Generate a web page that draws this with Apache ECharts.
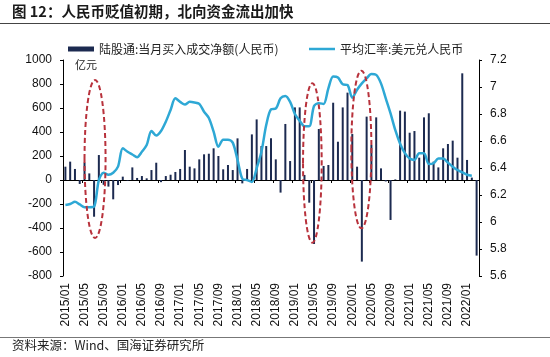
<!DOCTYPE html>
<html><head><meta charset="utf-8">
<script src="https://cdn.jsdelivr.net/npm/echarts@6/dist/echarts.min.js"></script>
<style>html,body{margin:0;padding:0;background:#fff}#c{width:550px;height:357px}</style>
</head><body><div id="c"></div>
<script>
// ---- data ----
const titleText = '图 12：人民币贬值初期，北向资金流出加快';
const sourceText = '资料来源：Wind、国海证券研究所';
const unitText = '亿元';
const barName = '陆股通:当月买入成交净额(人民币)';
const lineName = '平均汇率:美元兑人民币';

const categories = [];
for (let y = 2015; y <= 2022; y++) {
  for (let m = 1; m <= 12; m++) {
    if (y === 2022 && m > 3) break;
    categories.push(y + '/' + (m < 10 ? '0' + m : m));
  }
}

const netBuy = [111,153,92,-33,145,55,-306,208,-40,-55,-161,-42,28,-5,105,17,33,14,83,144,
  -18,33,44,67,92,250,111,97,172,214,219,264,200,89,125,83,347,-28,92,380,
  505,283,283,347,172,-105,467,158,605,605,42,-189,-533,425,117,125,644,319,605,728,
  383,111,-680,528,292,522,97,-12,-333,5,578,570,394,408,186,522,556,153,105,264,
  300,328,186,889,167,20,-630];

const fxRate = [6.126,6.133,6.15,6.13,6.11,6.11,6.115,6.31,6.365,6.35,6.365,6.41,6.546,6.52,6.50,6.48,
  6.52,6.57,6.674,6.64,6.674,6.743,6.83,6.916,6.89,6.87,6.89,6.885,6.875,6.817,6.77,6.67,
  6.558,6.61,6.61,6.588,6.46,6.32,6.31,6.297,6.398,6.52,6.718,6.835,6.84,6.916,6.933,6.89,
  6.80,6.75,6.71,6.71,6.86,6.88,6.875,6.99,7.077,7.07,7.02,7.015,6.92,6.98,7.027,7.064,
  7.096,7.09,7.027,6.916,6.805,6.68,6.58,6.51,6.47,6.46,6.51,6.51,6.43,6.435,6.47,6.47,
  6.44,6.41,6.385,6.368,6.35,6.343,null];

// annotation ovals: category-index span and left-axis value span
const ovals = [
  {i0: 4.0, i1: 8.4, v0: -483, v1: 833},
  {i0: 49.7, i1: 53.6, v0: -522, v1: 806},
  {i0: 59.8, i1: 64.0, v0: -403, v1: 911}
];

const leftMin = -800, leftMax = 1000, leftStep = 200;
const rightMin = 5.6, rightMax = 7.2, rightStep = 0.2;

const barColor = '#1c2a50';
const lineColor = '#2ea8d5';

// ---- chart ----
const chart = echarts.init(document.getElementById('c'));
const axisFont = {fontFamily: 'Liberation Sans, Arial, sans-serif', fontSize: 12, color: '#111'};
const legendText = {fontFamily: 'Noto Sans CJK SC', fontSize: 12, color: '#222'};

const staticGraphics = [
  {id: 'title', type: 'text', left: 12, top: 4, style: {text: titleText, font: 'bold 14.5px "Noto Sans CJK SC"', fill: '#1a1a1a'}},
  {id: 'tline', type: 'line', shape: {x1: 0, y1: 23.5, x2: 550, y2: 23.5}, style: {stroke: '#444', lineWidth: 1.2}},
  {id: 'unit', type: 'text', left: 75, top: 59, style: {text: unitText, font: '11px "Noto Sans CJK SC"', fill: '#222'}},
  {id: 'fline', type: 'line', shape: {x1: 0, y1: 337.5, x2: 550, y2: 337.5}, style: {stroke: '#777', lineWidth: 1}},
  {id: 'src', type: 'text', left: 12, top: 339, style: {text: sourceText, font: '12.5px "Noto Sans CJK SC"', fill: '#222'}}
];

chart.setOption({
  animation: false,
  backgroundColor: '#fff',
  grid: {left: 63, right: 71, top: 60, bottom: 81, containLabel: false},
  legend: [
    {
      left: 63, top: 38, itemWidth: 26, itemHeight: 5, textStyle: legendText,
      data: [{name: barName, icon: 'rect'}]
    },
    {
      left: 304, top: 38, itemWidth: 26, itemHeight: 2.5, textStyle: legendText,
      data: [{name: lineName, icon: 'rect', itemStyle: {color: lineColor}}]
    }
  ],
  xAxis: [
    {
      type: 'category', data: categories, boundaryGap: true,
      axisLine: {onZero: true, onZeroAxisIndex: 0, lineStyle: {color: '#000', width: 1}},
      axisTick: {show: true, interval: 3, length: 3, lineStyle: {color: '#000'}},
      axisLabel: {show: false}
    },
    {
      type: 'category', data: categories, boundaryGap: true, position: 'bottom',
      axisLine: {show: false, onZero: false},
      axisTick: {show: false},
      axisLabel: Object.assign({interval: 3, rotate: 90, margin: 7}, axisFont)
    }
  ],
  yAxis: [
    {
      type: 'value', min: leftMin, max: leftMax, interval: leftStep,
      splitLine: {show: false},
      axisLine: {show: true, lineStyle: {color: '#000'}},
      axisTick: {show: true, length: 3, lineStyle: {color: '#000'}},
      axisLabel: Object.assign({margin: 11, formatter: v => String(Math.round(v))}, axisFont)
    },
    {
      type: 'value', min: rightMin, max: rightMax, interval: rightStep, position: 'right',
      splitLine: {show: false},
      axisLine: {show: true, lineStyle: {color: '#000'}},
      axisTick: {show: true, length: 3, lineStyle: {color: '#000'}},
      axisLabel: Object.assign({margin: 11, formatter: v => String(parseFloat(v.toFixed(1)))}, axisFont)
    }
  ],
  series: [
    {
      name: barName, type: 'bar', data: netBuy, barWidth: 2,
      xAxisIndex: 0, yAxisIndex: 0,
      itemStyle: {color: barColor}
    },
    {
      name: lineName, type: 'line', data: fxRate, xAxisIndex: 0, yAxisIndex: 1,
      symbol: 'none', smooth: 0.3, connectNulls: false,
      lineStyle: {color: lineColor, width: 2.5},
      itemStyle: {color: lineColor}
    }
  ],
  graphic: staticGraphics
});

// dashed ovals placed through the chart's own coordinate system
const p0 = chart.convertToPixel({xAxisIndex: 0, yAxisIndex: 0}, [0, 0]);
const p1 = chart.convertToPixel({xAxisIndex: 0, yAxisIndex: 0}, [1, 0]);
const step = p1[0] - p0[0];
const ovalGraphics = ovals.map((o, k) => {
  const xa = p0[0] + o.i0 * step, xb = p0[0] + o.i1 * step;
  const ya = chart.convertToPixel({yAxisIndex: 0}, o.v0);
  const yb = chart.convertToPixel({yAxisIndex: 0}, o.v1);
  return {
    id: 'oval' + k, type: 'ellipse', z: 100,
    shape: {cx: (xa + xb) / 2, cy: (ya + yb) / 2, rx: Math.abs(xb - xa) / 2, ry: Math.abs(ya - yb) / 2},
    style: {fill: 'none', stroke: '#b8323c', lineWidth: 2, lineDash: [5, 3]}
  };
});
chart.setOption({graphic: staticGraphics.concat(ovalGraphics)});
</script>
</body></html>
